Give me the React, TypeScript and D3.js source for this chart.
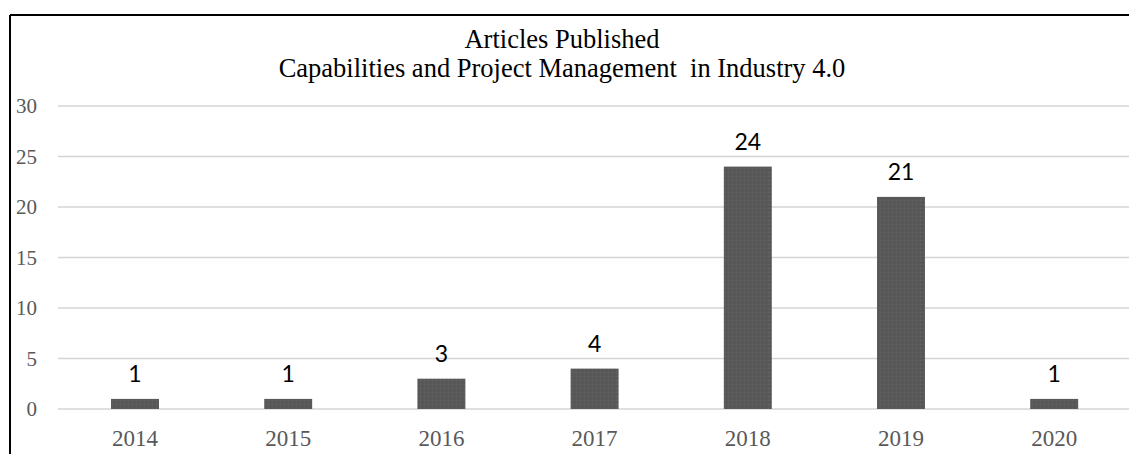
import React from 'react';
import * as d3 from 'd3';

const years = ['2014', '2015', '2016', '2017', '2018', '2019', '2020'];
const articles = [1, 1, 3, 4, 24, 21, 1];
const yTicks = [0, 5, 10, 15, 20, 25, 30];
const titleLines = ['Articles Published', 'Capabilities and Project Management  in Industry 4.0'];

const W = 1129;
const H = 454;

const App: React.FC = () => {
    // plot area runs slightly past the right edge, like the cropped original
    const x = d3.scaleBand<string>()
        .domain(years)
        .range([58.4, 1130.8])
        .paddingInner(0.687)
        .paddingOuter(0.3435);

    const y = d3.scaleLinear()
        .domain([0, 30])
        .range([409, 106]);

    const serif = '"Liberation Serif", "Times New Roman", serif';
    const sans = 'Lato, "Open Sans", sans-serif';

    return (
        <div style={{ position: 'absolute', left: 0, top: 0 }}>
            <svg width={W} height={H} style={{ display: 'block', background: '#fff' }}>
                <defs>
                    <pattern id="grain" width="4" height="4" patternUnits="userSpaceOnUse">
                        <rect width="4" height="4" fill="#595959" />
                        <rect x="0" y="0" width="1" height="1" fill="#666" />
                        <rect x="2" y="2" width="1" height="1" fill="#4f4f4f" />
                    </pattern>
                </defs>

                {/* frame, only top and left are in view */}
                <line x1={10} x2={W} y1={15} y2={15} stroke="#000" strokeWidth={2} />
                <line x1={10} x2={10} y1={15} y2={H} stroke="#000" strokeWidth={2} />

                {/* title */}
                {titleLines.map((t, i) => (
                    <text key={t} x={562} y={48 + i * 29} textAnchor="middle"
                        fontFamily={serif} fontSize={26.5} fill="#000"
                        style={{ whiteSpace: 'pre' }}>{t}</text>
                ))}

                {/* grid + y ticks */}
                {yTicks.map(v => (
                    <g key={v}>
                        <line x1={58} x2={W} y1={y(v)} y2={y(v)} stroke="#d4d4d4" strokeWidth={1.6} />
                        <text x={37} y={y(v)} dy="0.35em" textAnchor="end"
                            fontFamily={serif} fontSize={21} fill="#595959">{v}</text>
                    </g>
                ))}

                {/* bars */}
                {years.map((yr, i) => (
                    <rect key={yr} x={x(yr)} y={y(articles[i])} width={x.bandwidth()}
                        height={y(0) - y(articles[i])} fill="url(#grain)" />
                ))}

                {/* value labels */}
                {years.map((yr, i) => (
                    <text key={yr} x={(x(yr) || 0) + x.bandwidth() / 2} y={y(articles[i]) - 17}
                        textAnchor="middle" fontFamily={sans} fontSize={23} fill="#000">{articles[i]}</text>
                ))}

                {/* x labels */}
                {years.map(yr => (
                    <text key={yr} x={(x(yr) || 0) + x.bandwidth() / 2} y={446}
                        textAnchor="middle" fontFamily={serif} fontSize={23} fill="#595959">{yr}</text>
                ))}
            </svg>
        </div>
    );
};

export default App;
